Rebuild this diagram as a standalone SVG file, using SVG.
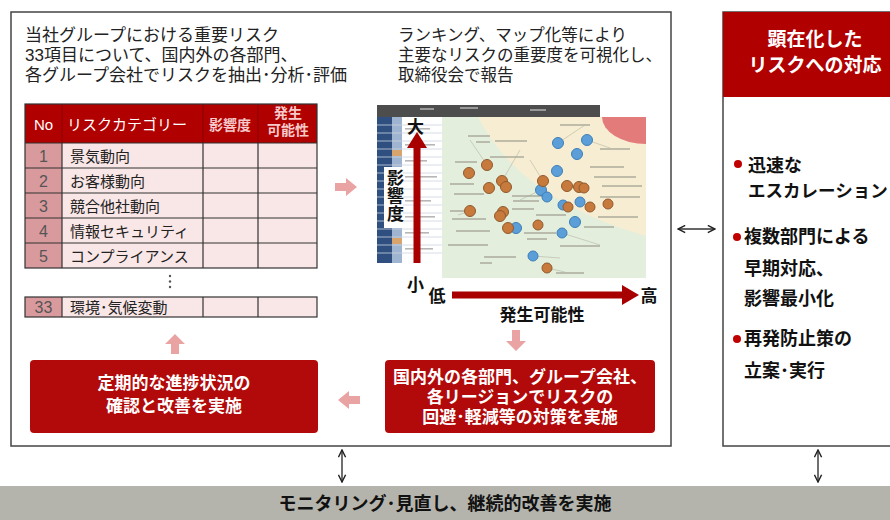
<svg xmlns="http://www.w3.org/2000/svg" width="890" height="520" viewBox="0 0 890 520">
<style>
  .jp { font-family: "Liberation Sans", "Noto Sans CJK JP", sans-serif; }
  .ttl { font-size: 17px; fill: #222; }
  .ttl2 { font-size: 16.5px; fill: #222; }
  .cell { font-size: 15px; fill: #222; }
  .num { font-size: 16px; fill: #555; text-anchor: middle; }
  .hd { font-size: 15px; fill: #fff; }
  .hdp { font-size: 14px; fill: #f6caca; text-anchor: middle; font-weight: bold; }
  .wb { font-size: 17px; fill: #fff; font-weight: bold; text-anchor: middle; }
  .rl { font-size: 18px; fill: #111; font-weight: bold; }
  .ax { font-size: 17px; fill: #111; font-weight: bold; }
  .panel { fill: #fff; stroke: #444; stroke-width: 1.5; }
  .redbox { fill: #b20a0a; }
  .pink { fill: #e9a3a3; }
  .grid { stroke: #333; stroke-width: 1.2; fill: none; }
  .lbl { fill: #a8a898; opacity: 0.7; }
  .org { fill: #c77a3c; stroke: #8f5a2e; stroke-width: 1; }
  .blu { fill: #5c9fd8; stroke: #3d7fb8; stroke-width: 1; }
  .thin { stroke: #333; stroke-width: 1.4; fill: none; }
</style>
<defs>
  <marker id="chev" viewBox="0 0 10 10" refX="9" refY="5" markerWidth="9" markerHeight="9" orient="auto-start-reverse" markerUnits="userSpaceOnUse">
    <path d="M1,1 L9,5 L1,9" fill="none" stroke="#222" stroke-width="1.6"/>
  </marker>
</defs>

<rect width="890" height="520" fill="#fff"/>

<!-- Left panel -->
<g id="node-left-panel">
  <rect class="panel" x="11" y="12" width="660" height="434"/>
  <text class="jp ttl"><tspan x="25" y="41">当社グループにおける重要リスク</tspan><tspan x="25" y="61">33項目について、国内外の各部門、</tspan><tspan x="25" y="81">各グループ会社でリスクを抽出･分析･評価</tspan></text>
  <text class="jp ttl2"><tspan x="398" y="41">ランキング、マップ化等により</tspan><tspan x="398" y="61">主要なリスクの重要度を可視化し、</tspan><tspan x="398" y="81">取締役会で報告</tspan></text>
</g>

<!-- Risk table -->
<g id="node-table">
  <rect x="25" y="104" width="292" height="39" fill="#b00000"/>
  <line x1="62" y1="104" x2="62" y2="143" stroke="#8a0000" stroke-width="1"/>
  <line x1="203" y1="104" x2="203" y2="143" stroke="#8a0000" stroke-width="1"/>
  <line x1="258" y1="104" x2="258" y2="143" stroke="#8a0000" stroke-width="1"/>
  <text class="jp hd" x="43.5" y="130" text-anchor="middle">No</text>
  <text class="jp hd" x="67" y="130" font-size="16">リスクカテゴリー</text>
  <text class="jp hdp" x="230" y="130">影響度</text>
  <text class="jp hdp"><tspan x="288" y="118">発生</tspan><tspan x="288" y="135">可能性</tspan></text>

  <rect x="25" y="143" width="37" height="125" fill="#d99a9d"/>
  <rect x="62" y="143" width="255" height="125" fill="#f9e7e7"/>
  <rect class="grid" x="25" y="104" width="292" height="164" stroke-width="1.6"/>
  <g class="grid">
    <line x1="25" y1="143" x2="317" y2="143"/>
    <line x1="25" y1="168" x2="317" y2="168"/>
    <line x1="25" y1="193" x2="317" y2="193"/>
    <line x1="25" y1="218" x2="317" y2="218"/>
    <line x1="25" y1="243" x2="317" y2="243"/>
    <line x1="62" y1="143" x2="62" y2="268"/>
    <line x1="203" y1="143" x2="203" y2="268"/>
    <line x1="258" y1="143" x2="258" y2="268"/>
  </g>
  <text class="jp num" x="43.5" y="162">1</text>
  <text class="jp num" x="43.5" y="187">2</text>
  <text class="jp num" x="43.5" y="212">3</text>
  <text class="jp num" x="43.5" y="237">4</text>
  <text class="jp num" x="43.5" y="262">5</text>
  <text class="jp cell" x="70" y="162">景気動向</text>
  <text class="jp cell" x="70" y="187">お客様動向</text>
  <text class="jp cell" x="70" y="212">競合他社動向</text>
  <text class="jp cell" x="70" y="237">情報セキュリティ</text>
  <text class="jp cell" x="70" y="262">コンプライアンス</text>

  <circle cx="170" cy="276" r="1.2" fill="#555"/>
  <circle cx="170" cy="281.5" r="1.2" fill="#555"/>
  <circle cx="170" cy="287" r="1.2" fill="#555"/>

  <rect x="25" y="297" width="37" height="20" fill="#d99a9d"/>
  <rect x="62" y="297" width="255" height="20" fill="#f9e7e7"/>
  <rect class="grid" x="25" y="297" width="292" height="20" stroke-width="1.6"/>
  <g class="grid">
    <line x1="62" y1="297" x2="62" y2="317"/>
    <line x1="203" y1="297" x2="203" y2="317"/>
    <line x1="258" y1="297" x2="258" y2="317"/>
  </g>
  <text class="jp num" x="43.5" y="313">33</text>
  <text class="jp cell" x="70" y="313">環境･気候変動</text>
</g>

<!-- Risk map chart -->
<g id="node-chart">
  <rect x="377" y="105" width="223" height="12" fill="#4d4d4d"/>
  <rect x="420" y="108" width="14" height="2" fill="#999"/>
  <rect x="460" y="107" width="18" height="2" fill="#999"/>
  <rect x="530" y="109" width="16" height="2" fill="#999"/>
  <rect x="377" y="117" width="65" height="146" fill="#fff"/>
  <rect x="377" y="117" width="15" height="146" fill="#2f4f80"/>
  <rect x="392" y="117" width="10" height="146" fill="#9fb4d0"/>
  <rect x="392" y="150" width="10" height="6" fill="#d9a36e"/>
  <rect x="392" y="180" width="10" height="6" fill="#d9a36e"/>
  <rect x="392" y="238" width="10" height="6" fill="#d9a36e"/>
  <g stroke="#ccd3dd" stroke-width="0.8">
    <line x1="377" y1="125" x2="442" y2="125"/>
    <line x1="377" y1="133" x2="442" y2="133"/>
    <line x1="377" y1="141" x2="442" y2="141"/>
    <line x1="377" y1="149" x2="442" y2="149"/>
    <line x1="377" y1="157" x2="442" y2="157"/>
    <line x1="377" y1="165" x2="442" y2="165"/>
    <line x1="377" y1="173" x2="442" y2="173"/>
    <line x1="377" y1="181" x2="442" y2="181"/>
    <line x1="377" y1="189" x2="442" y2="189"/>
    <line x1="377" y1="197" x2="442" y2="197"/>
    <line x1="377" y1="205" x2="442" y2="205"/>
    <line x1="377" y1="213" x2="442" y2="213"/>
    <line x1="377" y1="221" x2="442" y2="221"/>
    <line x1="377" y1="229" x2="442" y2="229"/>
    <line x1="377" y1="237" x2="442" y2="237"/>
    <line x1="377" y1="245" x2="442" y2="245"/>
    <line x1="377" y1="253" x2="442" y2="253"/>
  </g>
  <g fill="#b7b7b7">
    <rect x="405" y="128" width="25" height="1.6"/>
    <rect x="405" y="144" width="30" height="1.6"/>
    <rect x="405" y="160" width="22" height="1.6"/>
    <rect x="405" y="176" width="32" height="1.6"/>
    <rect x="405" y="200" width="26" height="1.6"/>
    <rect x="405" y="216" width="30" height="1.6"/>
    <rect x="405" y="232" width="24" height="1.6"/>
    <rect x="405" y="248" width="28" height="1.6"/>
  </g>

  <rect x="442" y="117" width="204" height="161" fill="#f7edd2"/>
  <path d="M442,117 L478,117 Q520,200 646,236 L646,278 L442,278 Z" fill="#e3eedc"/>
  <path d="M602,117 L646,117 L646,144 A44,27 0 0 1 602,117 Z" fill="#e47b7b"/>

  <g stroke="#b5b5a5" stroke-width="0.6">
    <line x1="487" y1="165" x2="470" y2="140"/>
    <line x1="502" y1="181" x2="520" y2="150"/>
    <line x1="543" y1="181" x2="530" y2="160"/>
    <line x1="558" y1="143" x2="585" y2="125"/>
    <line x1="587" y1="140" x2="610" y2="148"/>
    <line x1="541" y1="190" x2="520" y2="200"/>
    <line x1="562" y1="233" x2="600" y2="245"/>
    <line x1="533" y1="256" x2="560" y2="258"/>
    <line x1="547" y1="268" x2="565" y2="272"/>
    <line x1="470" y1="211" x2="458" y2="215"/>
  </g>
  <g class="lbl">
    <rect x="468" y="135" width="22" height="2"/>
    <rect x="476" y="141" width="14" height="2"/>
    <rect x="495" y="140" width="32" height="2"/>
    <rect x="560" y="124" width="30" height="2"/>
    <rect x="600" y="148" width="30" height="2"/>
    <rect x="490" y="156" width="34" height="2"/>
    <rect x="455" y="161" width="22" height="2"/>
    <rect x="590" y="166" width="34" height="2"/>
    <rect x="594" y="176" width="42" height="2"/>
    <rect x="602" y="185" width="40" height="2"/>
    <rect x="450" y="183" width="24" height="2"/>
    <rect x="454" y="193" width="30" height="2"/>
    <rect x="512" y="195" width="32" height="2"/>
    <rect x="513" y="200" width="26" height="2"/>
    <rect x="600" y="196" width="40" height="2"/>
    <rect x="512" y="208" width="22" height="2"/>
    <rect x="450" y="210" width="14" height="2"/>
    <rect x="452" y="218" width="34" height="2"/>
    <rect x="536" y="214" width="30" height="2"/>
    <rect x="598" y="216" width="40" height="2"/>
    <rect x="456" y="230" width="34" height="2"/>
    <rect x="524" y="232" width="32" height="2"/>
    <rect x="584" y="226" width="30" height="2"/>
    <rect x="527" y="238" width="20" height="2"/>
    <rect x="448" y="244" width="40" height="2"/>
    <rect x="560" y="245" width="40" height="2"/>
    <rect x="484" y="256" width="32" height="2"/>
    <rect x="480" y="262" width="12" height="2"/>
    <rect x="556" y="272" width="28" height="2"/>
  </g>

  <g class="blu">
    <circle cx="558" cy="143" r="5.5"/>
    <circle cx="587" cy="140" r="5.5"/>
    <circle cx="577" cy="154" r="5.5"/>
    <circle cx="557" cy="171" r="5.5"/>
    <circle cx="541" cy="190" r="5.5"/>
    <circle cx="547" cy="197" r="5"/>
    <circle cx="563" cy="205" r="5"/>
    <circle cx="580" cy="202" r="5"/>
    <circle cx="575" cy="222" r="5.5"/>
    <circle cx="516" cy="228" r="5.5"/>
    <circle cx="562" cy="233" r="5"/>
    <circle cx="533" cy="256" r="5"/>
  </g>
  <g class="org">
    <circle cx="487" cy="165" r="5.5"/>
    <circle cx="469" cy="173" r="5.5"/>
    <circle cx="502" cy="181" r="5.5"/>
    <circle cx="489" cy="188" r="5.5"/>
    <circle cx="506" cy="187" r="5.5"/>
    <circle cx="543" cy="181" r="5.5"/>
    <circle cx="567" cy="186" r="5.5"/>
    <circle cx="579" cy="187" r="5.5"/>
    <circle cx="584" cy="188" r="5"/>
    <circle cx="568" cy="207" r="5"/>
    <circle cx="590" cy="207" r="5"/>
    <circle cx="608" cy="204" r="5"/>
    <circle cx="470" cy="211" r="5.5"/>
    <circle cx="503" cy="212" r="5.5"/>
    <circle cx="500" cy="216" r="5.5"/>
    <circle cx="508" cy="228" r="5.5"/>
    <circle cx="538" cy="225" r="5"/>
    <circle cx="547" cy="268" r="5"/>
  </g>

  <!-- axis overlays -->
  <rect x="413.5" y="146" width="7" height="117" fill="#a80000"/>
  <polygon points="417,132 427,148 407,148" fill="#a80000"/>
  <rect x="452" y="291.5" width="172" height="7" fill="#a80000"/>
  <polygon points="639,295 622,285 622,305" fill="#a80000"/>
  <rect x="384" y="167" width="19" height="61" fill="#fff"/>
  <text class="jp ax" x="393.5" y="169" writing-mode="vertical-rl" style="text-orientation: upright;" letter-spacing="1">影響度</text>
  <text class="jp ax" x="415.5" y="133" text-anchor="middle">大</text>
  <text class="jp ax" x="415.5" y="291" text-anchor="middle">小</text>
  <text class="jp ax" x="437" y="302" text-anchor="middle">低</text>
  <text class="jp ax" x="649" y="302" text-anchor="middle">高</text>
  <text class="jp ax" x="542" y="321" text-anchor="middle">発生可能性</text>
</g>

<!-- Red action boxes -->
<g id="node-box-review">
  <rect class="redbox" x="30" y="360" width="288" height="73" rx="4"/>
  <text class="jp wb"><tspan x="174" y="389">定期的な進捗状況の</tspan><tspan x="174" y="412">確認と改善を実施</tspan></text>
</g>
<g id="node-box-countermeasure">
  <rect class="redbox" x="385" y="360" width="270" height="73" rx="4"/>
  <text class="jp wb"><tspan x="520" y="383">国内外の各部門、グループ会社、</tspan><tspan x="520" y="403">各リージョンでリスクの</tspan><tspan x="520" y="423">回避･軽減等の対策を実施</tspan></text>
</g>

<!-- Right panel -->
<g id="node-right-panel">
  <rect class="panel" x="723" y="12" width="180" height="434"/>
  <rect x="723" y="12" width="180" height="85" fill="#b00000"/>
  <text class="jp" font-size="19" font-weight="bold" fill="#fff" text-anchor="middle"><tspan x="815" y="46">顕在化した</tspan><tspan x="815" y="72">リスクへの対応</tspan></text>
  <circle cx="738" cy="164" r="4" fill="#c00000"/>
  <text class="jp rl"><tspan x="748" y="172">迅速な</tspan><tspan x="748" y="197" font-size="17.5">エスカレーション</tspan></text>
  <circle cx="737" cy="237" r="4" fill="#c00000"/>
  <text class="jp rl"><tspan x="744" y="243">複数部門による</tspan><tspan x="744" y="275">早期対応、</tspan><tspan x="744" y="305">影響最小化</tspan></text>
  <circle cx="737" cy="339" r="4" fill="#c00000"/>
  <text class="jp rl"><tspan x="744" y="345">再発防止策の</tspan><tspan x="744" y="377">立案･実行</tspan></text>
</g>

<!-- Bottom bar -->
<g id="node-bottom-bar">
  <rect x="0" y="486" width="890" height="34" fill="#b4b4ac"/>
  <text class="jp" x="445" y="510" font-size="18" font-weight="bold" fill="#111" text-anchor="middle">モニタリング･見直し、継続的改善を実施</text>
</g>

<!-- Connectors -->
<g id="connectors">
  <polygon class="pink" points="335,183 346,183 346,178 357,187 346,196 346,191 335,191"/>
  <polygon class="pink" points="512,330 520,330 520,341 526,341 516,351 506,341 512,341"/>
  <polygon class="pink" points="360,396 349,396 349,391 338,400 349,409 349,404 360,404"/>
  <polygon class="pink" points="171,354 179,354 179,344 185,344 175,334 165,344 171,344"/>
  <line class="thin" x1="678" y1="229" x2="715" y2="229" marker-start="url(#chev)" marker-end="url(#chev)"/>
  <line class="thin" x1="342" y1="450" x2="342" y2="482" marker-start="url(#chev)" marker-end="url(#chev)"/>
  <line class="thin" x1="818" y1="450" x2="818" y2="482" marker-start="url(#chev)" marker-end="url(#chev)"/>
</g>
</svg>
